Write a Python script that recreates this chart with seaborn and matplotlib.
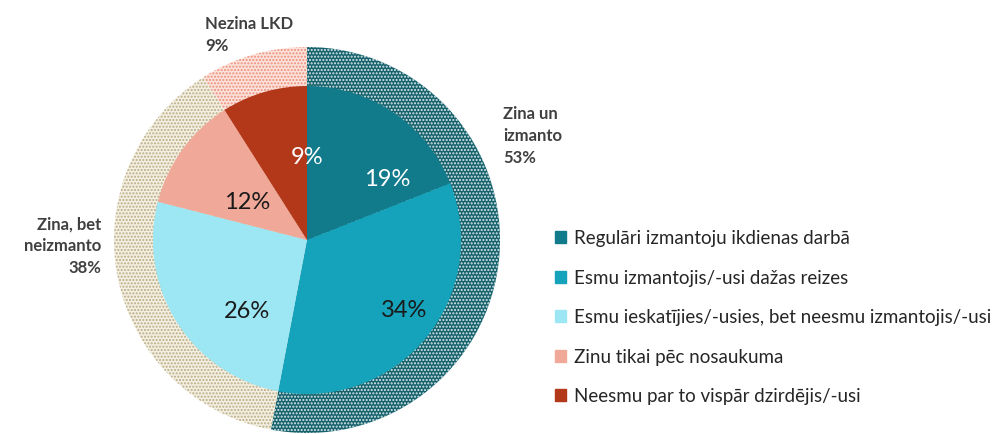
import matplotlib
matplotlib.use("Agg")
import matplotlib.pyplot as plt
import matplotlib.patches as mpatches
import numpy as np
import seaborn as sns

# inner pie: detailed answers
inner_labels = [
    "Regulāri izmantoju ikdienas darbā",
    "Esmu izmantojis/-usi dažas reizes",
    "Esmu ieskatījies/-usies, bet neesmu izmantojis/-usi",
    "Zinu tikai pēc nosaukuma",
    "Neesmu par to vispār dzirdējis/-usi",
]
inner_values = [19, 34, 26, 12, 9]
inner_colors = ["#127b8b", "#14a3bb", "#9de6f3", "#f0a999", "#b3381a"]
inner_text_colors = ["white", "#1a1a1a", "#1a1a1a", "#1a1a1a", "white"]

# outer ring: grouped answers
outer_labels = ["Zina un\nizmanto\n53%", "Zina, bet\nneizmanto\n38%", "Nezina LKD\n9%"]
outer_values = [53, 38, 9]
outer_face = ["#17626c", "#f3efe2", "#fbe3dc"]
outer_hatch = ["#dcecee", "#b9ab83", "#ee8b78"]

sns.set_theme(style="white")
plt.rcParams["font.family"] = ["Lato", "DejaVu Sans"]
plt.rcParams["hatch.linewidth"] = 1.0

fig = plt.figure(figsize=(9.93, 4.34), dpi=100)
ax = fig.add_axes([0, 0, 1, 1])

cx, cy = 307, 194
r_out, r_in = 193, 154

outer, _ = ax.pie(outer_values, colors=outer_face, startangle=90, counterclock=False,
                  radius=r_out, center=(cx, cy), frame=True,
                  wedgeprops=dict(linewidth=0))
for w, hc in zip(outer, outer_hatch):
    w.set_hatch(".....")
    w.set_edgecolor(hc)
    w.set_linewidth(0)

inner, _ = ax.pie(inner_values, colors=inner_colors, startangle=90, counterclock=False,
                  radius=r_in, center=(cx, cy), frame=True,
                  wedgeprops=dict(linewidth=0))

# percentage labels inside (angle in degrees, distance from centre)
label_pos = [(37, 100), (-36, 120), (-130, 93), (148, 70), (90, 83)]
for v, (ang, d), tc in zip(inner_values, label_pos, inner_text_colors):
    a = np.deg2rad(ang)
    ax.text(cx + d * np.cos(a), cy + d * np.sin(a), f"{v}%", ha="center", va="center",
            fontsize=17, color=tc)

# outer group labels
outer_text_pos = [(503, 298, "left"), (101, 188, "right"), (205, 399, "left")]
for lab, (x, y, ha) in zip(outer_labels, outer_text_pos):
    ax.text(x, y, lab, ha=ha, va="center", multialignment=ha, fontsize=12,
            fontweight="bold", color="#404040", linespacing=1.45)

ax.set_xlim(0, 993)
ax.set_ylim(0, 434)
ax.set_aspect("auto")
ax.axis("off")

handles = [mpatches.Patch(color=c) for c in inner_colors]
ax.legend(handles, inner_labels, loc="upper left", bbox_to_anchor=(0.559, 0.47),
          borderaxespad=0, borderpad=0, frameon=False, fontsize=13.5,
          handlelength=0.6, handleheight=0.6, handletextpad=0.4,
          labelspacing=1.2, labelcolor="#262626")

fig.savefig("out.png", dpi=100)
